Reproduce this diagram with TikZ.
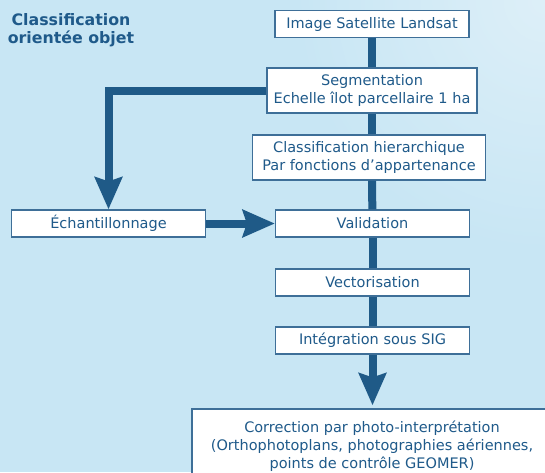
\documentclass[tikz,border=0pt]{standalone}
\usepackage{fontspec}
\setmainfont{DejaVu Sans}
\usetikzlibrary{arrows.meta}

\definecolor{bgblue}{HTML}{C8E6F4}
\definecolor{bglight}{HTML}{DDEFF8}
\definecolor{textblue}{HTML}{1F5A8A}
\definecolor{flowblue}{HTML}{1F5A87}
\definecolor{boxline}{HTML}{3E6F98}

\begin{document}
\begin{tikzpicture}[x=1pt,y=-1pt,
		box/.style={draw=boxline, line width=1.3pt, fill=white, text=textblue, inner sep=0pt, align=center, minimum width=194pt, minimum height=27pt, font=\fontsize{14.5}{18}\selectfont},
		flow/.style={draw=flowblue, line width=8pt},
		flowarrow/.style={flow, -{Stealth[length=32pt,width=27pt,inset=4pt]}}]

	% background
	\clip (0,0) rectangle (545,472);
	\fill [bgblue] (0,0) rectangle (545,472);
	\shade [inner color=bglight, outer color=bgblue] (545,0) circle [radius=250];

	% title
	\node [text=textblue, align=center, font=\bfseries\fontsize{15.8}{18}\selectfont] (title) at (71,30) {Classification\\orientée objet};

	% steps
	\node [box] (landsat) at (372,24) {Image Satellite Landsat};
	\node [box, minimum width=210pt, minimum height=45pt] (segment) at (372,90.5) {Segmentation\\Echelle îlot parcellaire 1 ha};
	\node [box, minimum width=233pt, minimum height=45pt] (hierarch) at (369,157.5) {Classification hierarchique\\Par fonctions d’appartenance};
	\node [box] (valid) at (372.5,223.5) {Validation};
	\node [box] (sample) at (108.5,223.5) {Échantillonnage};
	\node [box] (vector) at (372.5,282.5) {Vectorisation};
	\node [box] (gis) at (372.5,340.5) {Intégration sous SIG};
	\node [box, minimum width=360pt, minimum height=74pt] (photo) at (372,446) {Correction par photo-interprétation\\(Orthophotoplans, photographies aériennes,\\points de contrôle GEOMER)};

	% connectors
	\draw [flow] (landsat) -- (segment);
	\draw [flow] (segment) -- (segment |- hierarch.north);
	\draw [flow] (segment |- hierarch.south) -- (valid);
	\draw [flow] (valid) -- (vector);
	\draw [flow] (vector) -- (gis);
	\draw [flowarrow, shorten >=3pt] (gis) -- (gis |- photo.north);
	\draw [flowarrow] (segment.west) -| (sample.north);
	\draw [flowarrow] (sample) -- (valid);

\end{tikzpicture}
\end{document}
